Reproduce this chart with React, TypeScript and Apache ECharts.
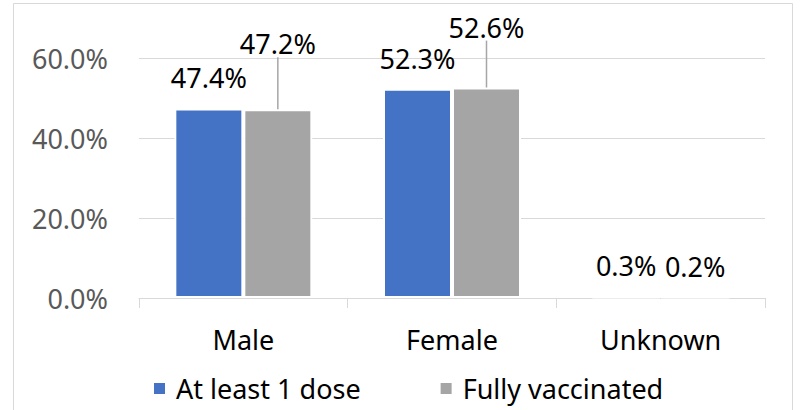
import React, { useEffect, useRef } from "react";
import * as echarts from "echarts";

const categories = ["Male", "Female", "Unknown"];
const atLeastOneDose = [47.4, 52.3, 0.3];
const fullyVaccinated = [47.2, 52.6, 0.2];
const yTicks = { min: 0, max: 60, interval: 20 };
// extra upward offset of the moved data labels (Excel-style leader lines)
const fullyLabelShift = [-35, -30, 0];

const FONT = "'Noto Sans', 'DejaVu Sans', sans-serif";

export default function App() {
  const ref = useRef<HTMLDivElement>(null);
  useEffect(() => {
    document.body.style.margin = "0";
    const chart = echarts.init(ref.current!, null, { renderer: "svg" });
    const pct = (v: number) => v.toFixed(1) + "%";
    const labelCfg = {
      show: true,
      position: "top",
      distance: 17,
      fontSize: 27,
      color: "#000000",
      fontFamily: FONT,
      formatter: (p: any) => pct(p.value),
    };
    chart.setOption({
      animation: false,
      backgroundColor: "#ffffff",
      textStyle: { fontFamily: FONT },
      graphic: [
        {
          type: "rect",
          shape: { x: 13.5, y: 3.5, width: 779, height: 430 },
          style: { fill: "none", stroke: "#d9d9d9", lineWidth: 1 },
          silent: true,
          z: -1,
        },
      ],
      grid: { left: 139, right: 35, top: 58, bottom: 112, containLabel: false },
      legend: {
        left: 147,
        top: 370,
        icon: "rect",
        itemWidth: 13,
        itemHeight: 13,
        itemGap: 78,
        textStyle: { fontSize: 27, color: "#000000", fontFamily: FONT, padding: [0, 0, 0, 5] },
        data: ["At least 1 dose", "Fully vaccinated"],
      },
      xAxis: {
        type: "category",
        data: categories,
        axisLine: { show: true, lineStyle: { color: "#d9d9d9", width: 1 } },
        axisTick: { show: true, length: 10, lineStyle: { color: "#d9d9d9" } },
        axisLabel: { fontSize: 27, color: "#000000", margin: 28, fontFamily: FONT },
      },
      yAxis: {
        type: "value",
        min: yTicks.min,
        max: yTicks.max,
        interval: yTicks.interval,
        axisLine: { show: false },
        axisTick: { show: false },
        axisLabel: {
          fontSize: 27,
          color: "#595959",
          margin: 31,
          fontFamily: FONT,
          formatter: (v: number) => pct(v),
        },
        splitLine: { lineStyle: { color: "#d9d9d9", width: 1 } },
      },
      series: [
        {
          name: "At least 1 dose",
          type: "bar",
          data: atLeastOneDose,
          barWidth: 69,
          barGap: "0%",
          itemStyle: { color: "#4472C4", borderColor: "#ffffff", borderWidth: 2 },
          label: labelCfg,
        },
        {
          name: "Fully vaccinated",
          type: "bar",
          data: fullyVaccinated.map((v, i) => ({
            value: v,
            labelLine: { show: fullyLabelShift[i] !== 0 },
          })),
          barWidth: 69,
          itemStyle: { color: "#A5A5A5", borderColor: "#ffffff", borderWidth: 2 },
          label: labelCfg,
          labelLayout: (p: any) => ({ dy: fullyLabelShift[p.dataIndex] }),
          labelLine: { show: true, lineStyle: { color: "#a6a6a6", width: 1.5 } },
        },
      ],
    });
    return () => chart.dispose();
  }, []);
  return (
    <div
      ref={ref}
      style={{ position: "absolute", left: 0, top: 0, width: 800, height: 410 }}
    />
  );
}
